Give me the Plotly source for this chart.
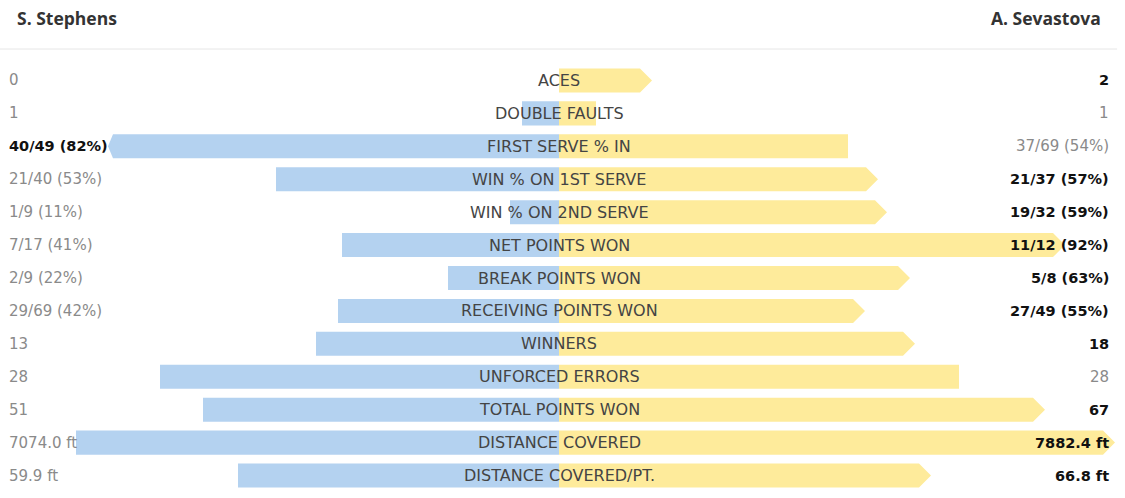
import plotly.graph_objects as go

# ---------------- data ----------------
player_left = "S. Stephens"
player_right = "A. Sevastova"

categories = ["ACES", "DOUBLE FAULTS", "FIRST SERVE % IN", "WIN % ON 1ST SERVE",
              "WIN % ON 2ND SERVE", "NET POINTS WON", "BREAK POINTS WON",
              "RECEIVING POINTS WON", "WINNERS", "UNFORCED ERRORS",
              "TOTAL POINTS WON", "DISTANCE COVERED", "DISTANCE COVERED/PT."]

left_text = ["0", "1", "40/49 (82%)", "21/40 (53%)", "1/9 (11%)", "7/17 (41%)",
             "2/9 (22%)", "29/69 (42%)", "13", "28", "51", "7074.0 ft", "59.9 ft"]
right_text = ["2", "1", "37/69 (54%)", "21/37 (57%)", "19/32 (59%)", "11/12 (92%)",
              "5/8 (63%)", "27/49 (55%)", "18", "28", "67", "7882.4 ft", "66.8 ft"]

# bar lengths as displayed (scale units)
bar_left = [0, 37, 446, 283, 49, 217, 111, 221, 243, 399, 356, 483, 321]
bar_right = [81, 37, 289, 307, 316, 494, 339, 294, 344, 400, 474, 544, 360]

# winner of each stat: "L", "R" or "" (tie)
winner = ["R", "", "L", "R", "R", "R", "R", "R", "R", "", "R", "R", "R"]

# ---------------- style ----------------
BLUE = "#b4d2f0"
YELLOW = "#feeb9b"
BAR_W = 0.73
ARROW_R = 12
ARROW_L = 5
FONT = "DejaVu Sans"
HEAD_FONT = "Open Sans"

n = len(categories)
ys = list(range(n))

fig = go.Figure()

fig.add_trace(go.Bar(y=ys, x=[-v for v in bar_left], base=0, orientation="h",
                     width=BAR_W, marker=dict(color=BLUE, line=dict(width=0)),
                     hoverinfo="skip"))
fig.add_trace(go.Bar(y=ys, x=bar_right, base=0, orientation="h",
                     width=BAR_W, marker=dict(color=YELLOW, line=dict(width=0)),
                     hoverinfo="skip"))

# arrow heads for winners
def heads(side):
    xs, yy = [], []
    for i in range(n):
        if winner[i] != side:
            continue
        h = BAR_W / 2
        if side == "R":
            b, d = bar_right[i], ARROW_R
        else:
            b, d = -bar_left[i], -ARROW_L
        xs += [b, b + d, b, b, None]
        yy += [i - h, i, i + h, i - h, None]
    return xs, yy

for side, col in (("R", YELLOW), ("L", BLUE)):
    hx, hy = heads(side)
    fig.add_trace(go.Scatter(x=hx, y=hy, mode="lines", fill="toself",
                             fillcolor=col, line=dict(width=0, color=col),
                             hoverinfo="skip"))

# category labels and values
for i, c in enumerate(categories):
    fig.add_annotation(x=0, y=i, text=c, showarrow=False, xanchor="center",
                       yanchor="middle",
                       font=dict(family=FONT, size=16, color="#444444"))
    lw = winner[i] == "L"
    rw = winner[i] == "R"
    fig.add_annotation(x=0.0062, xref="paper", y=i,
                       text=(f"<b>{left_text[i]}</b>" if lw else left_text[i]),
                       showarrow=False, xanchor="left", yanchor="middle",
                       font=dict(family=FONT, size=14.5 if lw else 15,
                                 color="#111111" if lw else "#8a8a8a"))
    fig.add_annotation(x=0.9875, xref="paper", y=i,
                       text=(f"<b>{right_text[i]}</b>" if rw else right_text[i]),
                       showarrow=False, xanchor="right", yanchor="middle",
                       font=dict(family=FONT, size=14.5 if rw else 15,
                                 color="#111111" if rw else "#8a8a8a"))

# header
fig.add_annotation(x=0.013, xref="paper", y=1.107, yref="paper", text=f"<b>{player_left}</b>",
                   showarrow=False, xanchor="left", yanchor="middle",
                   font=dict(family=HEAD_FONT, size=17.5, color="#333333"))
fig.add_annotation(x=0.98, xref="paper", y=1.107, yref="paper", text=f"<b>{player_right}</b>",
                   showarrow=False, xanchor="right", yanchor="middle",
                   font=dict(family=HEAD_FONT, size=17.5, color="#333333"))
fig.add_shape(type="line", xref="paper", yref="paper", x0=0, x1=0.993, y0=1.035, y1=1.035,
              line=dict(color="#e6e6e6", width=1))

fig.update_layout(
    width=1125, height=498,
    margin=dict(l=0, r=0, t=64, b=6),
    paper_bgcolor="white", plot_bgcolor="white",
    barmode="overlay", showlegend=False,
    xaxis=dict(range=[-559, 566], visible=False, fixedrange=True),
    yaxis=dict(range=[n - 0.5, -0.5], visible=False, fixedrange=True),
)

fig.write_html("out.html", config={"displayModeBar": False},
               post_script="document.body.style.margin='0';")
